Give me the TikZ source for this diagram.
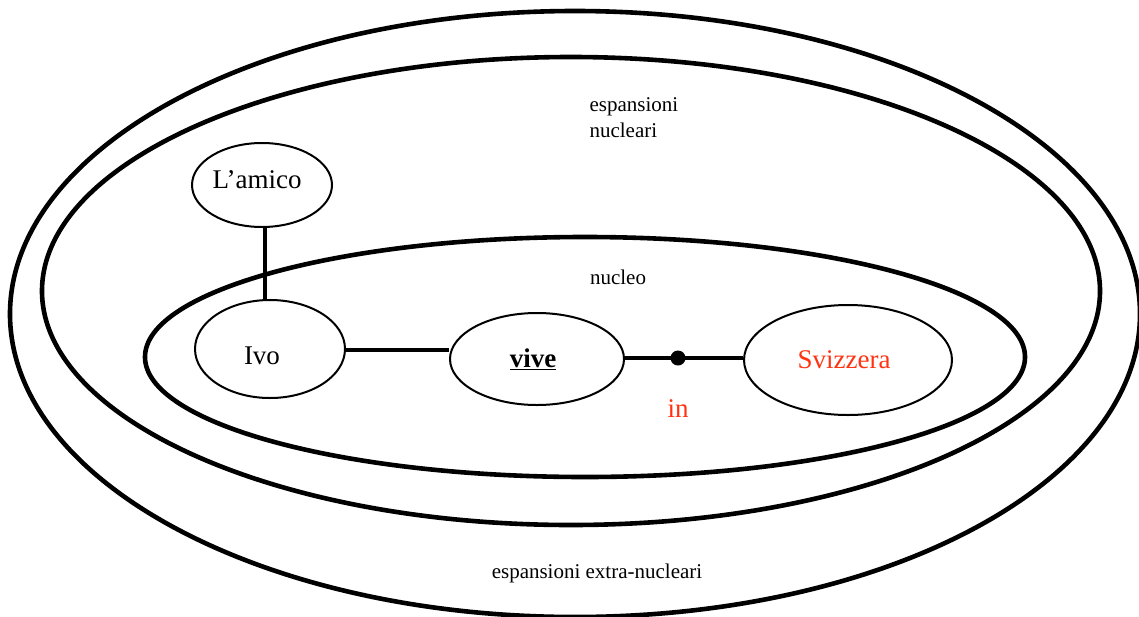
\documentclass[tikz,border=0pt]{standalone}
\usepackage{fontspec}
\setmainfont{Liberation Serif}
\usetikzlibrary{shapes.geometric}
\definecolor{redtxt}{RGB}{255,51,17}
\begin{document}
\begin{tikzpicture}[x=1pt,y=-1pt,
  ring/.style={line width=4.6pt},
  word/.style={draw=black,line width=2pt,ellipse,inner sep=0pt,font=\fontsize{27}{30}\selectfont},
  link/.style={line width=3.6pt},
  big/.style={font=\fontsize{27}{30}\selectfont},
  small/.style={font=\fontsize{21}{25}\selectfont}]
\useasboundingbox (0,0) rectangle (1139,616);
\draw[ring] (575,314) ellipse [x radius=565, y radius=303];
\draw[ring] (571,291) ellipse [x radius=529, y radius=234];
\draw[ring] (585,357) ellipse [x radius=440, y radius=120];
\node[word,minimum width=140pt,minimum height=84pt,label={[big,xshift=-5pt,yshift=5pt]center:L’amico}] (amico) at (262,185) {};
\node[word,minimum width=150pt,minimum height=98pt,label={[big,xshift=-8pt,yshift=-7pt]center:Ivo}] (ivo) at (270,349) {};
\node[word,minimum width=174pt,minimum height=92pt,label={[big,xshift=-4pt]center:\textbf{\underline{vive}}}] (vive) at (537,359) {};
\node[word,minimum width=208pt,minimum height=110pt,label={[big,text=redtxt,xshift=-4pt]center:Svizzera}] (svi) at (848,360) {};
\coordinate (d) at (678,358);
\fill (d) circle [radius=7.5];
\draw[link] (amico.south -| 265,0) -- (ivo.north -| 265,0);
\draw[link] (ivo.east |- 0,350) -- (vive.west |- 0,350);
\draw[link] (vive.east |- d) -- (d) -- (svi.west |- d);
\node[big,text=redtxt] (in) at (678,409) {in};
\node[small,align=left,anchor=west] (espn) at (586,118) {espansioni\\[1pt]nucleari};
\node[small] (nuc) at (618,277) {nucleo};
\node[small] (extra) at (597,573) {espansioni extra-nucleari};
\end{tikzpicture}
\end{document}
